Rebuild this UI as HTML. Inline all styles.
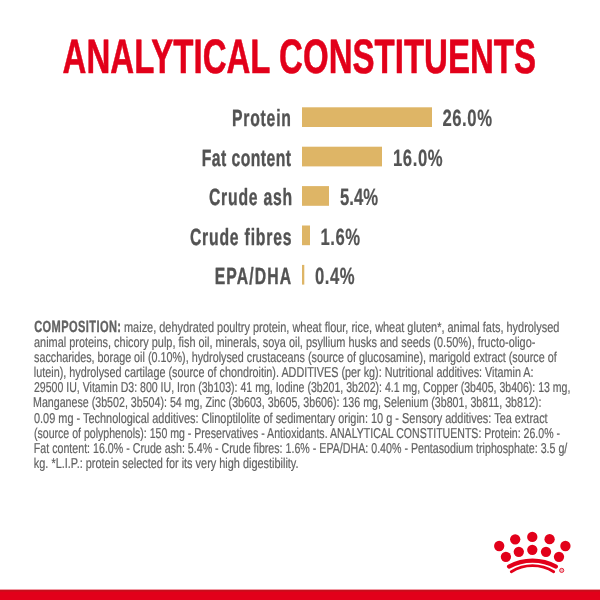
<!DOCTYPE html>
<html><head><meta charset="utf-8"><style>
html,body{margin:0;padding:0;background:#fff;width:600px;height:600px;overflow:hidden}
svg{display:block;font-family:"Liberation Sans",sans-serif;text-rendering:geometricPrecision;filter:blur(0.45px)}
</style></head><body>
<svg width="600" height="600" viewBox="0 0 600 600">
<rect x="302" y="107.30" width="130.00" height="19.7" fill="#DEB566"/>
<rect x="302" y="146.70" width="80.00" height="19.7" fill="#DEB566"/>
<rect x="302" y="186.10" width="27.00" height="19.7" fill="#DEB566"/>
<rect x="302" y="225.50" width="8.00" height="19.7" fill="#DEB566"/>
<rect x="302" y="264.90" width="2.30" height="19.7" fill="#DEB566"/>
<text id="title" x="62.60" y="72.55" font-size="48.3" font-weight="700" stroke="#E2001A" stroke-width="0.6" stroke-linejoin="round" fill="#E2001A" textLength="473.40" lengthAdjust="spacingAndGlyphs">ANALYTICAL CONSTITUENTS</text>
<text id="lab0" transform="translate(290.90 126.30) scale(0.67 1)" x="0" y="0" font-size="23.5" font-weight="700" stroke="#535353" stroke-width="0.4" stroke-linejoin="round" fill="#535353" text-anchor="end" textLength="88.01" lengthAdjust="spacing">Protein</text>
<text id="val0" transform="translate(442.40 126.30) scale(0.71 1)" x="0" y="0" font-size="23.5" font-weight="700" stroke="#545454" stroke-width="0.2" stroke-linejoin="round" fill="#545454" textLength="69.92" lengthAdjust="spacing">26.0%</text>
<text id="lab1" transform="translate(291.10 165.80) scale(0.67 1)" x="0" y="0" font-size="23.5" font-weight="700" stroke="#535353" stroke-width="0.4" stroke-linejoin="round" fill="#535353" text-anchor="end" textLength="133.49" lengthAdjust="spacing">Fat content</text>
<text id="val1" transform="translate(393.00 165.80) scale(0.71 1)" x="0" y="0" font-size="23.5" font-weight="700" stroke="#545454" stroke-width="0.2" stroke-linejoin="round" fill="#545454" textLength="69.92" lengthAdjust="spacing">16.0%</text>
<text id="lab2" transform="translate(292.10 205.30) scale(0.67 1)" x="0" y="0" font-size="23.5" font-weight="700" stroke="#535353" stroke-width="0.4" stroke-linejoin="round" fill="#535353" text-anchor="end" textLength="124.06" lengthAdjust="spacing">Crude ash</text>
<text id="val2" transform="translate(340.00 205.30) scale(0.71 1)" x="0" y="0" font-size="23.5" font-weight="700" stroke="#545454" stroke-width="0.2" stroke-linejoin="round" fill="#545454" textLength="53.77" lengthAdjust="spacing">5.4%</text>
<text id="lab3" transform="translate(291.50 244.80) scale(0.67 1)" x="0" y="0" font-size="23.5" font-weight="700" stroke="#535353" stroke-width="0.4" stroke-linejoin="round" fill="#535353" text-anchor="end" textLength="151.67" lengthAdjust="spacing">Crude fibres</text>
<text id="val3" transform="translate(320.40 244.80) scale(0.71 1)" x="0" y="0" font-size="23.5" font-weight="700" stroke="#545454" stroke-width="0.2" stroke-linejoin="round" fill="#545454" textLength="56.03" lengthAdjust="spacing">1.6%</text>
<text id="lab4" transform="translate(291.10 284.30) scale(0.67 1)" x="0" y="0" font-size="23.5" font-weight="700" stroke="#535353" stroke-width="0.4" stroke-linejoin="round" fill="#535353" text-anchor="end" textLength="114.07" lengthAdjust="spacing">EPA/DHA</text>
<text id="val4" transform="translate(315.00 284.30) scale(0.71 1)" x="0" y="0" font-size="23.5" font-weight="700" stroke="#545454" stroke-width="0.2" stroke-linejoin="round" fill="#545454" textLength="55.75" lengthAdjust="spacing">0.4%</text>
<text id="comp" transform="translate(34.20 331.80) scale(0.68 1)" x="0" y="0" font-size="16.3" font-weight="700" stroke="#626262" stroke-width="0.35" stroke-linejoin="round" fill="#626262" textLength="127.65" lengthAdjust="spacing">COMPOSITION:</text>
<text id="p0" x="124.00" y="331.70" font-size="14.3" stroke="#626262" stroke-width="0.2" stroke-linejoin="round" fill="#626262" textLength="435.40" lengthAdjust="spacingAndGlyphs">maize, dehydrated poultry protein, wheat flour, rice, wheat gluten*, animal fats, hydrolysed</text>
<text id="p1" x="34.00" y="346.84" font-size="14.3" stroke="#626262" stroke-width="0.2" stroke-linejoin="round" fill="#626262" textLength="501.36" lengthAdjust="spacingAndGlyphs">animal proteins, chicory pulp, fish oil, minerals, soya oil, psyllium husks and seeds (0.50%), fructo-oligo-</text>
<text id="p2" x="34.00" y="361.98" font-size="14.3" stroke="#626262" stroke-width="0.2" stroke-linejoin="round" fill="#626262" textLength="522.74" lengthAdjust="spacingAndGlyphs">saccharides, borage oil (0.10%), hydrolysed crustaceans (source of glucosamine), marigold extract (source of</text>
<text id="p3" x="33.80" y="377.12" font-size="14.3" stroke="#626262" stroke-width="0.2" stroke-linejoin="round" fill="#626262" textLength="499.76" lengthAdjust="spacingAndGlyphs">lutein), hydrolysed cartilage (source of chondroitin). ADDITIVES (per kg): Nutritional additives: Vitamin A:</text>
<text id="p4" x="34.00" y="392.26" font-size="14.3" stroke="#626262" stroke-width="0.2" stroke-linejoin="round" fill="#626262" textLength="536.44" lengthAdjust="spacingAndGlyphs">29500 IU, Vitamin D3: 800 IU, Iron (3b103): 41 mg, Iodine (3b201, 3b202): 4.1 mg, Copper (3b405, 3b406): 13 mg,</text>
<text id="p5" x="33.00" y="407.40" font-size="14.3" stroke="#626262" stroke-width="0.2" stroke-linejoin="round" fill="#626262" textLength="508.35" lengthAdjust="spacingAndGlyphs">Manganese (3b502, 3b504): 54 mg, Zinc (3b603, 3b605, 3b606): 136 mg, Selenium (3b801, 3b811, 3b812):</text>
<text id="p6" x="34.00" y="422.54" font-size="14.3" stroke="#626262" stroke-width="0.2" stroke-linejoin="round" fill="#626262" textLength="513.63" lengthAdjust="spacingAndGlyphs">0.09 mg - Technological additives: Clinoptilolite of sedimentary origin: 10 g - Sensory additives: Tea extract</text>
<text id="p7" x="34.00" y="437.68" font-size="14.3" stroke="#626262" stroke-width="0.2" stroke-linejoin="round" fill="#626262" textLength="526.02" lengthAdjust="spacingAndGlyphs">(source of polyphenols): 150 mg - Preservatives - Antioxidants. ANALYTICAL CONSTITUENTS: Protein: 26.0% -</text>
<text id="p8" x="33.80" y="452.82" font-size="14.3" stroke="#626262" stroke-width="0.2" stroke-linejoin="round" fill="#626262" textLength="533.53" lengthAdjust="spacingAndGlyphs">Fat content: 16.0% - Crude ash: 5.4% - Crude fibres: 1.6% - EPA/DHA: 0.40% - Pentasodium triphosphate: 3.5 g/</text>
<text id="p9" x="33.80" y="467.96" font-size="14.3" stroke="#626262" stroke-width="0.2" stroke-linejoin="round" fill="#626262" textLength="264.75" lengthAdjust="spacingAndGlyphs">kg. *L.I.P.: protein selected for its very high digestibility.</text>
<circle cx="499.2" cy="546" r="5.15" fill="#E2001A"/>
<circle cx="515.2" cy="539.3" r="5.15" fill="#E2001A"/>
<circle cx="532.3" cy="536.9" r="5.15" fill="#E2001A"/>
<circle cx="549.6" cy="539.2" r="5.15" fill="#E2001A"/>
<circle cx="565.4" cy="546" r="5.15" fill="#E2001A"/>
<circle cx="505.9" cy="556.8" r="5.15" fill="#E2001A"/>
<circle cx="518.8" cy="551.8" r="5.15" fill="#E2001A"/>
<circle cx="532.3" cy="549.85" r="5.15" fill="#E2001A"/>
<circle cx="546" cy="551.8" r="5.15" fill="#E2001A"/>
<circle cx="559" cy="556.8" r="5.15" fill="#E2001A"/>
<path d="M509 566.6 A49 49 0 0 1 556 566.6" stroke="#E2001A" stroke-width="4.1" fill="none" stroke-linecap="round"/>
<path d="M511.3 571.8 A39.5 39.5 0 0 1 553.7 571.8" stroke="#E2001A" stroke-width="2.8" fill="none" stroke-linecap="round"/>
<circle cx="561.7" cy="570.4" r="2.1" fill="#f2b5bb" stroke="#E2001A" stroke-width="0.8"/>
<rect x="0" y="589.6" width="600" height="10.4" fill="#E2001A"/>
<rect x="0" y="590" width="600" height="1.6" fill="#c80e1c"/>
</svg>
</body></html>
